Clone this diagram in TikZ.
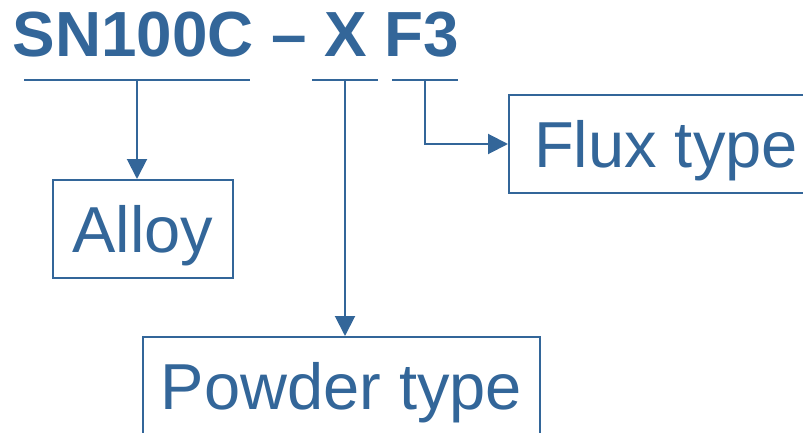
\documentclass[tikz,border=0pt]{standalone}
\usepackage{fontspec}
\setmainfont{Liberation Sans}
\usetikzlibrary{arrows.meta}
\definecolor{steel}{RGB}{51,102,153}
\begin{document}
\begin{tikzpicture}[x=1pt,y=-1pt,
  conn/.style={draw=steel,line width=2pt},
  arr/.style={conn,-{Triangle[width=20pt,length=20pt]}},
  labelbox/.style={draw=steel,line width=2pt,text=steel,inner sep=0pt,anchor=north west,
    font=\fontsize{65}{70}\selectfont,text height=46.5pt,text depth=0pt}]
\useasboundingbox (0,0) rectangle (803,433);
\clip (0,0) rectangle (803,433);
\node[anchor=base west,inner sep=0pt,text=steel,font=\fontsize{63.8}{70}\selectfont\bfseries] (title) at (12.5,57) {SN100C – X F3};
% underlines
\coordinate (u1a) at (24,80); \coordinate (u1b) at (250,80); \coordinate (u1m) at (137,80);
\coordinate (u2a) at (312,80); \coordinate (u2b) at (378,80); \coordinate (u2m) at (345,80);
\coordinate (u3a) at (392,80); \coordinate (u3b) at (458,80); \coordinate (u3m) at (425,80);
\draw[conn] (u1a) -- (u1b);
\draw[conn] (u2a) -- (u2b);
\draw[conn] (u3a) -- (u3b);
% boxes
\node[labelbox,minimum width=180pt,minimum height=98pt] (alloy) at (52,179) {Alloy};
\node[labelbox,minimum width=397pt,minimum height=99pt] (powder) at (142,336) {Powder type};
\node[labelbox,minimum width=314pt,minimum height=98pt] (flux) at (508,94) {Flux type};
% connectors
\draw[arr] (u1m) -- (u1m |- alloy.north);
\draw[arr] (u2m) -- (u2m |- powder.north);
\draw[arr] (u3m) |- (flux.west);
\end{tikzpicture}
\end{document}
